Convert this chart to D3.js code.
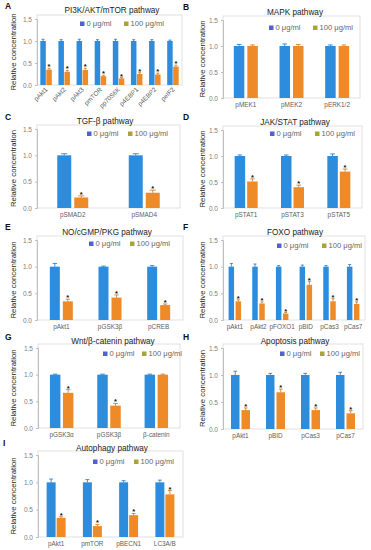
<!DOCTYPE html>
<html>
<head>
<meta charset="utf-8">
<script src="https://cdn.jsdelivr.net/npm/d3@7"></script>
<style>
  body { margin: 0; background: #fff; }
  svg { display: block; font-family: "Liberation Sans", Arial, sans-serif; }
</style>
</head>
<body>
<div id="chart"></div>
<script>
// Donnees
var legendeLabels = ["0 \u03bcg/ml", "100 \u03bcg/ml"];
var yTicks = [0, 0.5, 1.0, 1.5];

var catsA = ["pAkt1", "pAkt2", "pAkt3", "pmTOR", "pp70S6K", "p4EBP1", "p4EBP2", "peIF2"];
var ctrlA = [1, 1, 1, 1, 1, 1, 1, 1];
var ctrlErrA = [0.04, 0.03, 0.04, 0.03, 0.04, 0.03, 0.03, 0.02];
var trtA = [0.35, 0.30, 0.34, 0.20, 0.15, 0.25, 0.24, 0.42];
var trtErrA = [0.03, 0.03, 0.04, 0.02, 0.02, 0.03, 0.03, 0.03];
var starsA = [1, 1, 1, 1, 1, 1, 1, 1];

var catsB = ["pMEK1", "pMEK2", "pERK1/2"];
var ctrlB = [1, 1, 1];
var ctrlErrB = [0.03, 0.04, 0.02];
var trtB = [1.0, 1.0, 1.0];
var trtErrB = [0.02, 0.03, 0.02];
var starsB = [0, 0, 0];

var catsC = ["pSMAD2", "pSMAD4"];
var ctrlC = [1, 1];
var ctrlErrC = [0.03, 0.03];
var trtC = [0.20, 0.29];
var trtErrC = [0.03, 0.05];
var starsC = [1, 1];

var catsD = ["pSTAT1", "pSTAT3", "pSTAT5"];
var ctrlD = [1, 1, 1];
var ctrlErrD = [0.02, 0.02, 0.04];
var trtD = [0.51, 0.40, 0.70];
var trtErrD = [0.05, 0.04, 0.05];
var starsD = [1, 1, 1];

var catsE = ["pAkt1", "pGSK3\u03b2", "pCREB"];
var ctrlE = [1, 1, 1];
var ctrlErrE = [0.06, 0.01, 0.02];
var trtE = [0.35, 0.42, 0.28];
var trtErrE = [0.04, 0.05, 0.02];
var starsE = [1, 1, 1];

var catsF = ["pAkt1", "pAkt2", "pFOXO1", "pBID", "pCas3", "pCas7"];
var ctrlF = [1, 1, 1, 1, 1, 1];
var ctrlErrF = [0.06, 0.05, 0.02, 0.03, 0.02, 0.04];
var trtF = [0.35, 0.31, 0.12, 0.66, 0.35, 0.30];
var trtErrF = [0.03, 0.03, 0.02, 0.06, 0.05, 0.04];
var starsF = [1, 1, 1, 1, 1, 1];

var catsG = ["pGSK3\u03b1", "pGSK3\u03b2", "\u03b2-catenin"];
var ctrlG = [1, 1, 1];
var ctrlErrG = [0.01, 0.01, 0.01];
var trtG = [0.66, 0.42, 1.0];
var trtErrG = [0.06, 0.04, 0.01];
var starsG = [1, 1, 0];

var catsH = ["pAkt1", "pBID", "pCas3", "pCas7"];
var ctrlH = [1, 1, 1, 1];
var ctrlErrH = [0.07, 0.03, 0.03, 0.05];
var trtH = [0.35, 0.68, 0.35, 0.29];
var trtErrH = [0.04, 0.06, 0.04, 0.05];
var starsH = [1, 1, 1, 1];

var catsI = ["pAkt1", "pmTOR", "pBECN1", "LC3A/B"];
var ctrlI = [1, 1, 1, 1];
var ctrlErrI = [0.06, 0.05, 0.03, 0.04];
var trtI = [0.35, 0.20, 0.40, 0.78];
var trtErrI = [0.02, 0.03, 0.03, 0.07];
var starsI = [1, 1, 1, 1];

// Mise en page (positions des panneaux)
var panneaux = [
  { lettre: "A", titre: "PI3K/AKT/mTOR pathway", cats: catsA, ctrl: ctrlA, ctrlErr: ctrlErrA, trt: trtA, trtErr: trtErrA, stars: starsA,
    x0: 37, x1: 182, y0: 19, y1: 85, lx: 5, ly: 9, tx: 112, ty: 13, legX: [80, 124], legY: 26, ylabX: 16, barW: 5.5, gap: 0.5, rot: true },
  { lettre: "B", titre: "MAPK pathway", cats: catsB, ctrl: ctrlB, ctrlErr: ctrlErrB, trt: trtB, trtErr: trtErrB, stars: starsB,
    x0: 223, x1: 360, y0: 20, y1: 98, lx: 183, ly: 10, tx: 295, ty: 15, legX: [269, 313], legY: 30, ylabX: 205, barW: 10.5, gap: 3 },
  { lettre: "C", titre: "TGF-\u03b2 pathway", cats: catsC, ctrl: ctrlC, ctrlErr: ctrlErrC, trt: trtC, trtErr: trtErrC, stars: starsC,
    x0: 37, x1: 180, y0: 129, y1: 208, lx: 5, ly: 120, tx: 105, ty: 124, legX: [87, 128], legY: 136, ylabX: 16, barW: 14, gap: 3 },
  { lettre: "D", titre: "JAK/STAT pathway", cats: catsD, ctrl: ctrlD, ctrlErr: ctrlErrD, trt: trtD, trtErr: trtErrD, stars: starsD,
    x0: 223, x1: 362, y0: 130, y1: 208, lx: 183, ly: 120, tx: 295, ty: 125, legX: [270, 315], legY: 136, ylabX: 205, barW: 10.5, gap: 2 },
  { lettre: "E", titre: "NO/cGMP/PKG pathway", cats: catsE, ctrl: ctrlE, ctrlErr: ctrlErrE, trt: trtE, trtErr: trtErrE, stars: starsE,
    x0: 37, x1: 183, y0: 240, y1: 320, lx: 5, ly: 230, tx: 107, ty: 235, legX: [89, 130], legY: 246, ylabX: 16, barW: 10, gap: 3 },
  { lettre: "F", titre: "FOXO pathway", cats: catsF, ctrl: ctrlF, ctrlErr: ctrlErrF, trt: trtF, trtErr: trtErrF, stars: starsF,
    x0: 223, x1: 365, y0: 240, y1: 320, lx: 183, ly: 230, tx: 295, ty: 235, legX: [277, 322], legY: 248, ylabX: 205, barW: 5.5, gap: 1.5 },
  { lettre: "G", titre: "Wnt/\u03b2-catenin pathway", cats: catsG, ctrl: ctrlG, ctrlErr: ctrlErrG, trt: trtG, trtErr: trtErrG, stars: starsG,
    x0: 38, x1: 180, y0: 348, y1: 428, lx: 5, ly: 340, tx: 113, ty: 344, legX: [103, 142], legY: 356, ylabX: 16, barW: 10.5, gap: 2.5 },
  { lettre: "H", titre: "Apoptosis pathway", cats: catsH, ctrl: ctrlH, ctrlErr: ctrlErrH, trt: trtH, trtErr: trtErrH, stars: starsH,
    x0: 223, x1: 363, y0: 348, y1: 429, lx: 183, ly: 340, tx: 295, ty: 344, legX: [280, 320], legY: 356, ylabX: 205, barW: 8.5, gap: 2 },
  { lettre: "I", titre: "Autophagy pathway", cats: catsI, ctrl: ctrlI, ctrlErr: ctrlErrI, trt: trtI, trtErr: trtErrI, stars: starsI,
    x0: 38, x1: 183, y0: 455, y1: 537, lx: 3, ly: 446, tx: 112, ty: 451, legX: [93, 134], legY: 464, ylabX: 16, barW: 9, gap: 1 }
];

var couleurs = ["#2d8ddc", "#ee8a28"];
var couleursErr = ["#2572b5", "#c9731f"];
var couleursLeg = ["#4f62d2", "#a9a43a"];

var svg = d3.select("#chart").append("svg").attr("width", 371).attr("height", 550);

panneaux.forEach(dessinerPanneau);

function dessinerPanneau (p) {
  var g = svg.append("g");

  var x = d3.scaleBand().domain(p.cats).range([p.x0, p.x1]);
  var y = d3.scaleLinear().domain([0, 1.5]).range([p.y1, p.y0]);
  var centre = function (i) { return x(p.cats[i]) + x.bandwidth() / 2; };

  // Cadre de la zone de trace
  g.append("rect")
    .attr("x", p.x0).attr("y", p.y0 - 4)
    .attr("width", p.x1 - p.x0).attr("height", p.y1 - p.y0 + 4)
    .attr("fill", "none").attr("stroke", "#d9d9d9").attr("stroke-width", 0.8);

  // Axe Y
  var axeY = d3.axisLeft(y).tickValues(yTicks).tickFormat(d3.format(".1f")).tickSize(2).tickPadding(3);
  var ga = g.append("g").attr("transform", "translate(" + p.x0 + ",0)").call(axeY);
  ga.select(".domain").attr("stroke", "#bfbfbf");
  ga.selectAll(".tick line").attr("stroke", "#bfbfbf");
  ga.selectAll(".tick text").attr("fill", "#808080").attr("font-size", 6.5)
    .attr("font-family", "Liberation Sans, Arial, sans-serif");

  // Barres
  var series = [p.ctrl, p.trt];
  var erreurs = [p.ctrlErr, p.trtErr];
  series.forEach(function (vals, s) {
    var decal = s === 0 ? -p.barW - p.gap / 2 : p.gap / 2;
    var grp = g.append("g");
    grp.selectAll("rect").data(vals).enter().append("rect")
      .attr("x", function (d, i) { return centre(i) + decal; })
      .attr("y", function (d) { return y(d); })
      .attr("width", p.barW)
      .attr("height", function (d) { return y(0) - y(d); })
      .attr("fill", couleurs[s]);

    // Barres d'erreur (haut seulement)
    grp.selectAll("path.err").data(vals).enter().append("path")
      .attr("class", "err")
      .attr("d", function (d, i) {
        var cx = centre(i) + decal + p.barW / 2;
        var yt = y(d + erreurs[s][i]);
        var c = Math.max(1.5, p.barW * 0.22);
        return "M" + cx + "," + y(d) + "V" + yt + "M" + (cx - c) + "," + yt + "H" + (cx + c);
      })
      .attr("stroke", couleursErr[s]).attr("stroke-width", 0.8).attr("fill", "none");
  });

  // Etoiles
  var idx = d3.range(p.trt.length).filter(function (i) { return p.stars[i]; });
  g.selectAll("text.star").data(idx).enter().append("text")
    .attr("class", "star")
    .attr("x", function (i) { return centre(i) + p.gap / 2 + p.barW / 2; })
    .attr("y", function (i) { return y(p.trt[i] + p.trtErr[i]) + 1; })
    .attr("text-anchor", "middle")
    .attr("font-size", 7.5).attr("font-weight", "bold").attr("fill", "#111")
    .text("*");

  // Etiquettes X
  var lab = g.selectAll("text.cat").data(p.cats).enter().append("text")
    .attr("class", "cat")
    .attr("font-size", 6.4).attr("fill", "#606060")
    .text(function (d) { return d; });
  if (p.rot) {
    lab.attr("text-anchor", "end")
      .attr("transform", function (d) {
        return "translate(" + (x(d) + x.bandwidth() / 2 + 2) + "," + (p.y1 + 5) + ") rotate(-45)";
      });
  } else {
    lab.attr("text-anchor", "middle")
      .attr("x", function (d) { return x(d) + x.bandwidth() / 2; })
      .attr("y", p.y1 + 9);
  }

  // Titre
  g.append("text").attr("x", p.tx).attr("y", p.ty).attr("text-anchor", "middle")
    .attr("font-size", 8.2).attr("fill", "#222").text(p.titre);

  // Lettre du panneau
  g.append("text").attr("x", p.lx).attr("y", p.ly)
    .attr("font-size", 8.5).attr("font-weight", "bold").attr("fill", "#111").text(p.lettre);

  // Legende
  legendeLabels.forEach(function (t, s) {
    g.append("rect").attr("x", p.legX[s]).attr("y", p.legY - 4.5).attr("width", 4.5).attr("height", 4.5)
      .attr("fill", couleursLeg[s]);
    g.append("text").attr("x", p.legX[s] + 6.5).attr("y", p.legY)
      .attr("font-size", 7.6).attr("fill", "#666").text(t);
  });

  // Titre axe Y
  g.append("text")
    .attr("transform", "translate(" + p.ylabX + "," + ((p.y0 + p.y1) / 2) + ") rotate(-90)")
    .attr("text-anchor", "middle").attr("font-size", 7.8).attr("fill", "#222")
    .text("Relative  concentration");
}
</script>
</body>
</html>
